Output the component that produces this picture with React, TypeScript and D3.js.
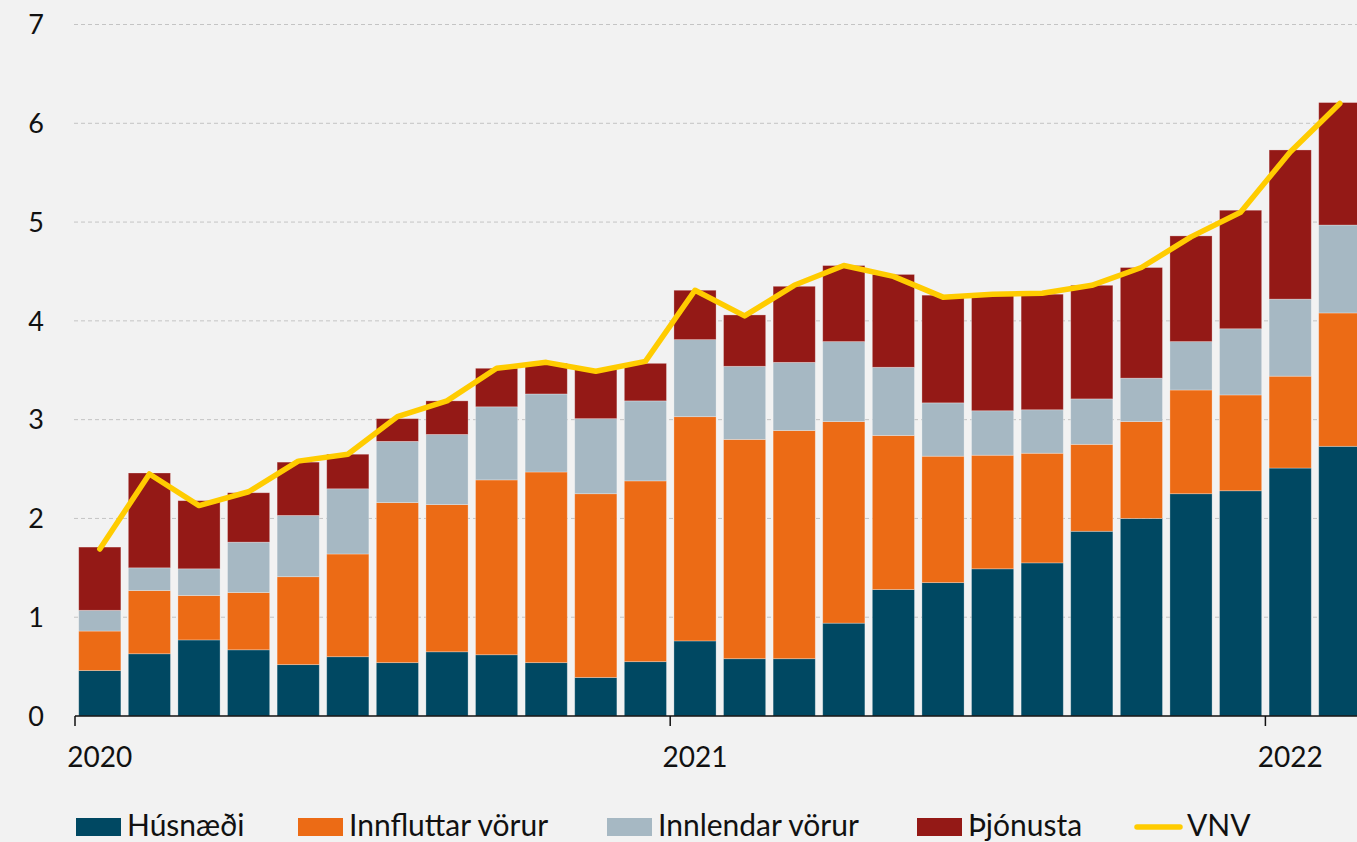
import { useEffect, useRef } from 'react'
import * as d3 from 'd3'

// months Jan 2020 - Feb 2022
const months = [
  '2020-01', '2020-02', '2020-03', '2020-04', '2020-05', '2020-06',
  '2020-07', '2020-08', '2020-09', '2020-10', '2020-11', '2020-12',
  '2021-01', '2021-02', '2021-03', '2021-04', '2021-05', '2021-06',
  '2021-07', '2021-08', '2021-09', '2021-10', '2021-11', '2021-12',
  '2022-01', '2022-02',
]

const husnaedi = [0.46, 0.63, 0.77, 0.67, 0.52, 0.60, 0.54, 0.65, 0.62, 0.54, 0.39, 0.55, 0.76, 0.58, 0.58, 0.94, 1.28, 1.35, 1.49, 1.55, 1.87, 2.00, 2.25, 2.28, 2.51, 2.73]
const innfluttar = [0.40, 0.64, 0.45, 0.58, 0.89, 1.04, 1.62, 1.49, 1.77, 1.93, 1.86, 1.83, 2.27, 2.22, 2.31, 2.04, 1.56, 1.28, 1.15, 1.11, 0.88, 0.98, 1.05, 0.97, 0.93, 1.35]
const innlendar = [0.21, 0.23, 0.27, 0.51, 0.62, 0.66, 0.62, 0.71, 0.74, 0.79, 0.76, 0.81, 0.78, 0.74, 0.69, 0.81, 0.69, 0.54, 0.45, 0.44, 0.46, 0.44, 0.49, 0.67, 0.78, 0.89]
const thjonusta = [0.64, 0.96, 0.69, 0.50, 0.54, 0.35, 0.23, 0.34, 0.39, 0.31, 0.50, 0.38, 0.50, 0.52, 0.77, 0.77, 0.94, 1.09, 1.17, 1.17, 1.15, 1.12, 1.07, 1.20, 1.51, 1.24]
const vnv = [1.69, 2.45, 2.13, 2.27, 2.58, 2.65, 3.03, 3.19, 3.52, 3.58, 3.49, 3.59, 4.31, 4.05, 4.36, 4.56, 4.45, 4.24, 4.27, 4.28, 4.36, 4.54, 4.85, 5.10, 5.71, 6.20]

const seriesNames = ['Húsnæði', 'Innfluttar vörur', 'Innlendar vörur', 'Þjónusta']
const seriesColors = ['#004862', '#EC6B15', '#A6B8C3', '#941916']
const lineName = 'VNV'
const lineColor = '#FFCC00'
const yTicks = [0, 1, 2, 3, 4, 5, 6, 7]
const yearTicks = ['2020', '2021', '2022']

const FONT = 'Lato, "Open Sans", sans-serif'

export default function App() {
  const svgRef = useRef<SVGSVGElement>(null)

  useEffect(() => {
    if (!svgRef.current) return
    document.body.style.margin = '0'
    const svg = d3.select(svgRef.current)
    svg.selectAll('*').remove()

    const W = 1357
    const H = 842
    const left = 75
    const step = 49.6
    const bottom = 716

    svg.attr('width', W).attr('height', H)
    svg.append('rect').attr('width', W).attr('height', H).attr('fill', '#F2F2F2')

    const x = d3.scaleBand<string>()
      .domain(months)
      .range([left, left + months.length * step])
      .paddingInner(0.15)
      .paddingOuter(0.075)

    const y = d3.scaleLinear().domain([0, 7]).range([bottom, 24.5])

    // gridlines
    svg.append('g')
      .selectAll('line')
      .data(yTicks.filter(d => d > 0))
      .join('line')
      .attr('x1', 74)
      .attr('x2', W)
      .attr('y1', d => y(d))
      .attr('y2', d => y(d))
      .attr('stroke', '#C4C4C4')
      .attr('stroke-width', 1)
      .attr('stroke-dasharray', '4 3')

    // y labels
    svg.append('g')
      .selectAll('text')
      .data(yTicks)
      .join('text')
      .attr('x', 44)
      .attr('y', d => y(d))
      .attr('dy', '0.36em')
      .attr('text-anchor', 'end')
      .attr('fill', '#111')
      .style('font-family', FONT)
      .style('font-size', '27px')
      .text(d => d)

    // stacked bars
    const rows = months.map((m, i) => ({
      month: m,
      s0: husnaedi[i],
      s1: innfluttar[i],
      s2: innlendar[i],
      s3: thjonusta[i],
    }))
    const stack = d3.stack<any>().keys(['s0', 's1', 's2', 's3'])
    const stacked = stack(rows)

    svg.append('g')
      .selectAll('g')
      .data(stacked)
      .join('g')
      .attr('fill', (_, i) => seriesColors[i])
      .selectAll('rect')
      .data(d => d)
      .join('rect')
      .attr('x', d => x(d.data.month)!)
      .attr('width', x.bandwidth())
      .attr('y', d => y(d[1]))
      .attr('height', d => y(d[0]) - y(d[1]))
      .attr('stroke', '#ffffff')
      .attr('stroke-opacity', 0.35)
      .attr('stroke-width', 0.8)

    // x axis
    const xLin = d3.scaleLinear().domain([0, months.length]).range([left, left + months.length * step])
    svg.append('line')
      .attr('x1', left)
      .attr('x2', W)
      .attr('y1', bottom)
      .attr('y2', bottom)
      .attr('stroke', '#111')
      .attr('stroke-width', 1.5)

    svg.append('g')
      .selectAll('line')
      .data(yearTicks)
      .join('line')
      .attr('x1', (_, i) => xLin(i * 12))
      .attr('x2', (_, i) => xLin(i * 12))
      .attr('y1', bottom)
      .attr('y2', bottom + 10)
      .attr('stroke', '#111')
      .attr('stroke-width', 1.5)

    svg.append('g')
      .selectAll('text')
      .data(yearTicks)
      .join('text')
      .attr('x', d => x(`${d}-01`)! + x.bandwidth() / 2)
      .attr('y', 767)
      .attr('text-anchor', 'middle')
      .attr('fill', '#111')
      .style('font-family', FONT)
      .style('font-size', '28px')
      .text(d => d)

    // VNV line
    const line = d3.line<number>()
      .x((_, i) => x(months[i])! + x.bandwidth() / 2)
      .y(d => y(d))

    svg.append('path')
      .datum(vnv)
      .attr('fill', 'none')
      .attr('stroke', lineColor)
      .attr('stroke-width', 5.5)
      .attr('stroke-linejoin', 'round')
      .attr('stroke-linecap', 'round')
      .attr('d', line)

    // legend
    const legendX = [76, 298, 607, 917]
    const legend = svg.append('g')
    seriesNames.forEach((name, i) => {
      legend.append('rect')
        .attr('x', legendX[i])
        .attr('y', 818)
        .attr('width', 45)
        .attr('height', 18)
        .attr('fill', seriesColors[i])
      legend.append('text')
        .attr('x', legendX[i] + 51)
        .attr('y', 836)
        .attr('fill', '#111')
        .style('font-family', FONT)
        .style('font-size', '30px')
        .text(name)
    })
    legend.append('line')
      .attr('x1', 1137)
      .attr('x2', 1180)
      .attr('y1', 827)
      .attr('y2', 827)
      .attr('stroke', lineColor)
      .attr('stroke-width', 5.5)
      .attr('stroke-linecap', 'round')
    legend.append('text')
      .attr('x', 1187)
      .attr('y', 836)
      .attr('fill', '#111')
      .style('font-family', FONT)
      .style('font-size', '30px')
      .text(lineName)
  }, [])

  return (
    <div>
      <svg ref={svgRef} style={{ display: 'block' }}></svg>
    </div>
  )
}
